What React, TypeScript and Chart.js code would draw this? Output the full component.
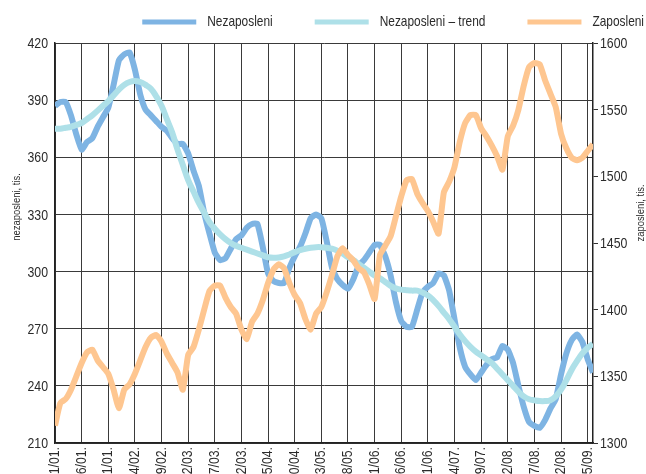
import React, { useEffect, useRef } from 'react';
import { Chart, registerables } from 'chart.js';

Chart.register(...registerables);

const FONT = "'Liberation Sans', Arial, sans-serif";
const NARROW = 0.82;
const TEXT = '#2b2b2b';

const tickLabels = [
  '01/01.', '06/01.', '11/01.', '04/02.', '09/02.', '02/03.', '07/03.', '12/03.', '05/04.', '10/04.', '03/05.',
  '08/05.', '01/06.', '06/06.', '11/06.', '04/07.', '09/07.', '02/08.', '07/08.', '12/08.', '05/09.',
];

const seriesNames = ['Nezaposleni', 'Nezaposleni – trend', 'Zaposleni'];

// monthly values, 01/01 .. 06/09
const nezaposleni = [
  387, 389, 389, 382, 372, 364, 368, 370, 376, 381,
  386, 398, 411, 414, 415, 406, 393, 385, 382, 379,
  376, 374, 370, 367, 367, 362, 353, 345, 331, 320,
  310, 306, 307, 312, 317, 319, 323, 325, 325, 313,
  299, 295, 294, 294, 302, 308, 313, 320, 328, 330,
  328, 316, 302, 296, 293, 291, 296, 303, 306, 310,
  314, 314, 308, 298, 284, 274, 271, 271, 280, 289,
  292, 294, 299, 298, 290, 275, 260, 250, 246, 243,
  247, 251, 254, 255, 261, 259, 252, 240, 229, 221,
  219, 218, 222, 228, 233, 246, 257, 264, 267, 263,
  254, 247,
];

const nezaposleniTrend = [
  375, 375, 375.5, 376, 377, 378, 380, 382, 384.5, 387,
  389.5, 392.5, 395.5, 398, 399.5, 400, 399.5, 398, 396, 392,
  387, 380, 373, 364, 356, 348, 342, 336, 331, 326,
  322.5, 319.5, 317, 315, 313.5, 312.5, 311.5, 310.5, 309.5, 308.5,
  307.5, 307.2, 307.4, 308, 309, 310.2, 311.2, 312, 312.5, 312.8,
  312.8, 312.5, 312, 311, 309.5, 307.5, 306, 304, 302, 300,
  298, 296.5, 294.5, 292.5, 291.2, 290.5, 290.2, 290, 290, 289,
  287.5, 285, 282, 278.5, 275, 271, 267, 263.5, 260.5, 258,
  256, 254, 252, 249, 246, 243, 240, 237, 234.5, 233,
  232.4, 232, 232, 232.5, 234.5, 238, 243, 248.5, 253, 257,
  260, 262,
];

const zaposleni = [
  1313, 1330, 1333, 1340, 1350, 1360, 1368, 1370, 1362, 1357,
  1352, 1340, 1326, 1340, 1344, 1352, 1362, 1372, 1379, 1381,
  1376, 1367, 1360, 1353, 1340, 1366, 1372, 1385, 1400, 1414,
  1418, 1418, 1409, 1402, 1397, 1385, 1378, 1391, 1397, 1407,
  1420, 1430, 1434, 1431, 1420, 1411, 1405, 1393, 1385, 1397,
  1402, 1413, 1426, 1440, 1446, 1441, 1437, 1431, 1428, 1419,
  1408, 1441, 1448, 1455, 1470, 1485, 1497, 1498, 1487, 1480,
  1474, 1466, 1457, 1488, 1496, 1507, 1526, 1540, 1546, 1546,
  1536, 1530, 1523, 1515, 1505, 1530, 1538, 1550, 1568, 1582,
  1585, 1584, 1572, 1562, 1552, 1532, 1521, 1514, 1512, 1514,
  1519, 1524,
];

const leftTitle = 'nezaposleni, tis.';
const rightTitle = 'zaposleni, tis.';

const toPoints = (arr: number[]) => arr.map((y, i) => ({ x: i, y }));

// draws text in a narrow (condensed) style
function narrowText(
  ctx: CanvasRenderingContext2D,
  text: string,
  x: number,
  y: number,
  align: CanvasTextAlign,
  rotate = 0,
) {
  ctx.save();
  ctx.translate(x, y);
  if (rotate) ctx.rotate(rotate);
  ctx.scale(NARROW, 1);
  ctx.textAlign = align;
  ctx.fillText(text, 0, 0);
  ctx.restore();
}

const legendPlugin = {
  id: 'customLegend',
  afterDraw(chart: any) {
    const ctx = chart.ctx as CanvasRenderingContext2D;
    ctx.save();
    ctx.font = `14.5px ${FONT}`;
    ctx.textBaseline = 'middle';
    const ds = chart.data.datasets;
    const boxW = 54;
    const boxH = 5;
    const gap = 11;
    const spacing = 42;
    const y = 22;
    let right = 644;
    const pos: { bx: number; tx: number }[] = [];
    for (let i = ds.length - 1; i >= 0; i--) {
      const w = ctx.measureText(ds[i].label).width * NARROW;
      const tx = right - w;
      const bx = tx - gap - boxW;
      pos[i] = { bx, tx };
      right = bx - spacing;
    }
    for (let i = 0; i < ds.length; i++) {
      ctx.fillStyle = ds[i].borderColor;
      ctx.fillRect(pos[i].bx, y - boxH / 2, boxW, boxH);
      ctx.fillStyle = TEXT;
      narrowText(ctx, ds[i].label, pos[i].tx, y, 'left');
    }
    ctx.restore();
  },
};

const textPlugin = {
  id: 'axisText',
  afterDraw(chart: any) {
    const ctx = chart.ctx as CanvasRenderingContext2D;
    const a = chart.chartArea;
    const { x, y, y1 } = chart.scales;
    ctx.save();
    ctx.fillStyle = TEXT;
    ctx.textBaseline = 'middle';
    ctx.font = `15px ${FONT}`;
    y.ticks.forEach((t: any) => {
      narrowText(ctx, String(t.value), a.left - 7, y.getPixelForValue(t.value) + 1, 'right');
    });
    y1.ticks.forEach((t: any) => {
      narrowText(ctx, String(t.value), a.right + 7, y1.getPixelForValue(t.value) + 1, 'left');
    });
    x.ticks.forEach((t: any) => {
      const label = tickLabels[Math.round(t.value / 5)];
      if (label) narrowText(ctx, label, x.getPixelForValue(t.value), a.bottom + 4, 'right', -Math.PI / 2);
    });
    ctx.font = `11.5px ${FONT}`;
    ctx.textAlign = 'center';
    narrowText(ctx, leftTitle, a.left - 38, a.top + a.height * 0.41, 'center', -Math.PI / 2);
    narrowText(ctx, rightTitle, a.right + 48, a.top + a.height * 0.425, 'center', -Math.PI / 2);
    ctx.restore();
  },
};

export default function App() {
  const ref = useRef<HTMLCanvasElement | null>(null);

  useEffect(() => {
    if (!ref.current) return;
    const chart = new Chart(ref.current, {
      type: 'line',
      data: {
        datasets: [
          {
            label: seriesNames[0],
            data: toPoints(nezaposleni),
            borderColor: '#7eb4e3',
            borderWidth: 6,
            pointRadius: 0,
            tension: 0.15,
            borderJoinStyle: 'round',
            yAxisID: 'y',
            order: 3,
          },
          {
            label: seriesNames[1],
            data: toPoints(nezaposleniTrend),
            borderColor: '#aee0e8',
            borderWidth: 6,
            pointRadius: 0,
            tension: 0.4,
            borderJoinStyle: 'round',
            yAxisID: 'y',
            order: 2,
          },
          {
            label: seriesNames[2],
            data: toPoints(zaposleni),
            borderColor: '#fec690',
            borderWidth: 6,
            pointRadius: 0,
            tension: 0.15,
            borderJoinStyle: 'round',
            yAxisID: 'y1',
            order: 1,
          },
        ],
      },
      options: {
        animation: false,
        responsive: false,
        layout: { padding: { top: 43, left: 0, right: 0, bottom: 0 } },
        plugins: {
          legend: { display: false },
          tooltip: { enabled: false },
        },
        scales: {
          x: {
            type: 'linear',
            min: 0,
            max: 101,
            afterFit: (s: any) => {
              s.height = 31;
            },
            ticks: { stepSize: 5, autoSkip: false, includeBounds: false, display: false },
            grid: { color: '#3a3a3a', drawTicks: false, lineWidth: 1 },
            border: { color: '#222', width: 1.5 },
          },
          y: {
            position: 'left',
            min: 210,
            max: 420,
            afterFit: (s: any) => {
              s.width = 55;
            },
            ticks: { stepSize: 30, display: false },
            grid: { color: '#3a3a3a', drawTicks: false, lineWidth: 1 },
            border: { color: '#222', width: 1.5 },
          },
          y1: {
            position: 'right',
            min: 1300,
            max: 1600,
            afterFit: (s: any) => {
              s.width = 53;
            },
            ticks: { stepSize: 50, display: false },
            grid: { drawOnChartArea: false, color: '#333', tickLength: 5 },
            border: { color: '#222', width: 1.5 },
          },
        },
      },
      plugins: [legendPlugin, textPlugin],
    } as any);
    return () => chart.destroy();
  }, []);

  return (
    <div style={{ position: 'absolute', left: 0, top: 0, width: 646, height: 474, background: '#fff' }}>
      <canvas ref={ref} width={646} height={474} />
    </div>
  );
}
